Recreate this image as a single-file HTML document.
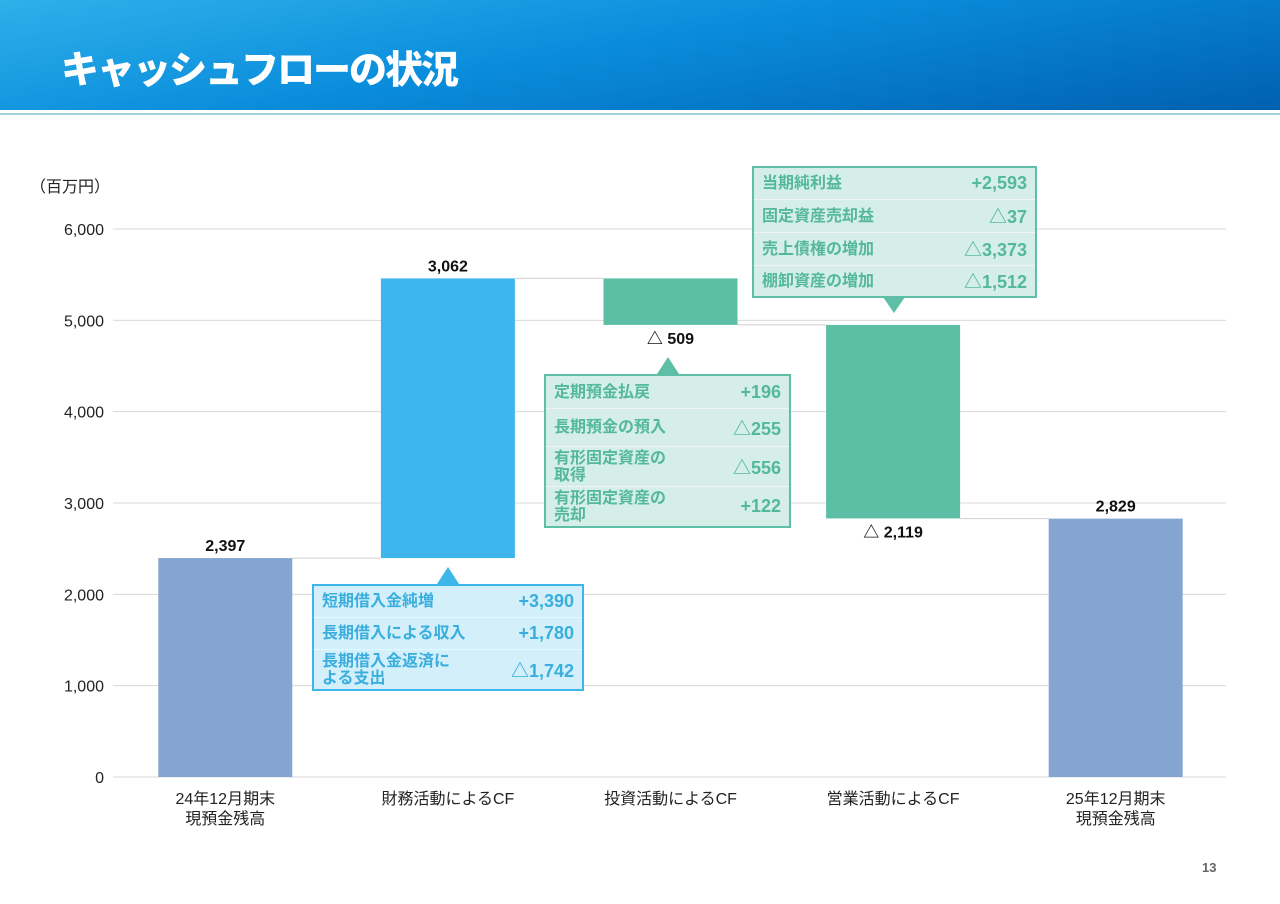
<!DOCTYPE html>
<html><head><meta charset="utf-8">
<style>
body{margin:0;width:1280px;height:904px;position:relative;background:#fff;font-family:"Liberation Sans","Noto Sans CJK JP",sans-serif;overflow:hidden}
.hdr{position:absolute;left:0;top:0;width:1280px;height:110px;background:linear-gradient(170deg,#2fb0ea 0%,#0a8ddc 45%,#0060b0 100%)}
.hdr h1{position:absolute;left:61px;top:48px;margin:0;color:#fff;font-size:38px;font-weight:900;letter-spacing:-2px;line-height:46px}
.l1{position:absolute;left:0;top:113px;width:1280px;height:2px;background:#9fd3e2}
.co{position:absolute;box-sizing:border-box;border:2px solid;font-weight:bold}
.row{display:flex;justify-content:space-between;align-items:center;padding:0 8px;box-sizing:border-box;border-bottom:1px dotted #fff}
.row:last-child{border-bottom:none}
.row .k{font-size:16px;line-height:17px}
.row .v{font-size:18px}
.blue{border-color:#3db6e8;background:#d3eff9;color:#3aaedf}
.green{border-color:#5dbfa5;background:#d5eee7;color:#54b89c}
.pg{position:absolute;left:1202px;top:860px;font-size:13px;color:#666;font-weight:bold}
</style></head><body>
<div class="hdr"><h1>キャッシュフローの状況</h1></div>
<div class="l1"></div>
<svg id="chart" width="1280" height="904" style="position:absolute;left:0;top:0"></svg>

<div class="co blue" style="left:312px;top:584px;width:272px;height:107px">
<div class="row" style="height:32px"><span class="k">短期借入金純増</span><span class="v">+3,390</span></div>
<div class="row" style="height:32px"><span class="k">長期借入による収入</span><span class="v">+1,780</span></div>
<div class="row" style="height:39px"><span class="k">長期借入金返済に<br>よる支出</span><span class="v">△1,742</span></div>
</div>
<div class="co green" style="left:544px;top:374px;width:247px;height:154px">
<div class="row" style="height:33px"><span class="k">定期預金払戻</span><span class="v">+196</span></div>
<div class="row" style="height:38px"><span class="k">長期預金の預入</span><span class="v">△255</span></div>
<div class="row" style="height:40px"><span class="k">有形固定資産の<br>取得</span><span class="v">△556</span></div>
<div class="row" style="height:39px"><span class="k">有形固定資産の<br>売却</span><span class="v">+122</span></div>
</div>
<div class="co green" style="left:752px;top:166px;width:285px;height:132px">
<div class="row" style="height:32px"><span class="k">当期純利益</span><span class="v">+2,593</span></div>
<div class="row" style="height:33px"><span class="k">固定資産売却益</span><span class="v">△37</span></div>
<div class="row" style="height:33px"><span class="k">売上債権の増加</span><span class="v">△3,373</span></div>
<div class="row" style="height:30px"><span class="k">棚卸資産の増加</span><span class="v">△1,512</span></div>
</div>
<div class="pg">13</div>

<script>
const categories=["24年12月期末\n現預金残高","財務活動によるCF","投資活動によるCF","営業活動によるCF","25年12月期末\n現預金残高"];
const deltas=[2397,3062,-509,-2119,2829];
const kinds=["total","delta","delta","delta","total"];
const valueLabels=["2,397","3,062","△ 509","△ 2,119","2,829"];
const yTicks=[0,1000,2000,3000,4000,5000,6000];
const yTickLabels=["0","1,000","2,000","3,000","4,000","5,000","6,000"];

const svg=document.getElementById('chart');
const NS="http://www.w3.org/2000/svg";
const x0=113,x1=1226,yb=777,yt=229,ymax=6000;
const y=v=>yb-(v/ymax)*(yb-yt);
const step=(x1-x0)/categories.length;
const cx=i=>x0+step*(i+0.5)+1;
const bw=134;
function mk(t,a){const e=document.createElementNS(NS,t);for(const k in a)e.setAttribute(k,a[k]);svg.appendChild(e);return e;}
function tx(s,a){const e=mk('text',a);e.textContent=s;return e;}

yTicks.forEach((v,i)=>{
 const g=mk('line',{x1:x0,x2:x1,y1:y(v),y2:y(v),stroke:'#d9d9d9','stroke-width':1});
 
 
 const t=tx(yTickLabels[i],{x:104,y:y(v)+6,'text-anchor':'end','font-size':16,fill:'#222'});
 
 
});
const ut=tx('（百万円）',{x:30,y:192,'font-size':16,fill:'#222'});



let run=0;
const colors=["#84a5d0","#3cb6ec","#5cbfa5","#5cbfa5","#84a5d0"];
deltas.forEach((d,i)=>{
 let lo,hi,start;
 if(kinds[i]==="total"){lo=0;hi=d;start=d;run=d;}
 else{start=run;const end=run+d;lo=Math.min(run,end);hi=Math.max(run,end);run=end;}
 if(i>0){const c=mk('line',{x1:cx(i-1)+bw/2,x2:cx(i)-bw/2,y1:y(start),y2:y(start),stroke:'#cfcfcf','stroke-width':1});
  
  }
 const r=mk('rect',{x:cx(i)-bw/2,y:y(hi),width:bw,height:y(lo)-y(hi),fill:colors[i]});
 
 
 const ly=d<0&&kinds[i]==="delta"?y(lo)+19:y(hi)-7;
 const vl=tx(valueLabels[i],{x:cx(i),y:ly,'text-anchor':'middle','font-size':16,'font-weight':'bold',fill:'#111'});
 
 
 categories[i].split("\n").forEach((ln,j)=>{
  const cl=tx(ln,{x:cx(i),y:804+j*20,'text-anchor':'middle','font-size':16,fill:'#222'});
  
  
 });
});
[[448,567,584,'#3db6e8'],[668,357,374,'#5dbfa5'],[894,313,297,'#5dbfa5']].forEach(p=>{
 const t=mk('polygon',{points:`${p[0]},${p[1]} ${p[0]-11},${p[2]} ${p[0]+11},${p[2]}`,fill:p[3]});
 
 
});
</script>
</body></html>
